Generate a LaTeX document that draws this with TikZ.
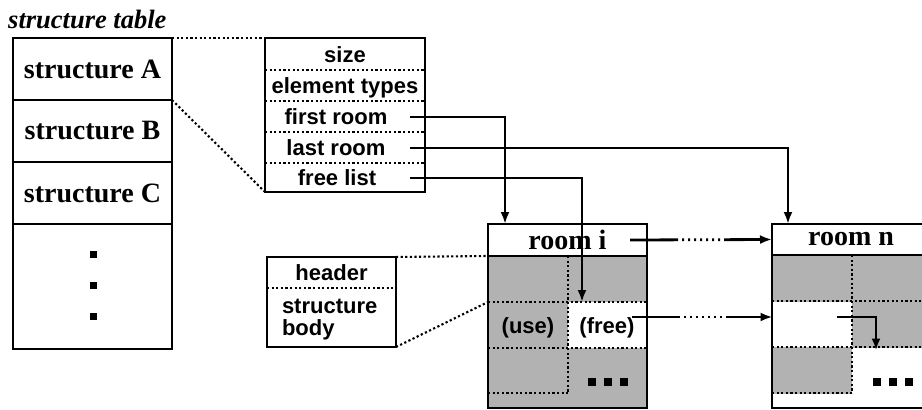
\documentclass[tikz,border=0pt]{standalone}
\usepackage{fontspec}
\setmainfont{Liberation Serif}
\setsansfont{Liberation Sans}
\usetikzlibrary{arrows.meta,positioning}

\newcommand{\tabfont}{\fontsize{28}{30}\selectfont\bfseries}
\newcommand{\fldfont}{\fontsize{22}{24}\selectfont\sffamily\bfseries}

\begin{document}
\begin{tikzpicture}[x=1pt, y=-1pt,
    box/.style={draw, line width=2.7pt, inner sep=0pt, outer sep=0pt},
    tabcell/.style={box, minimum width=159pt, font=\tabfont},
    field/.style={inner sep=0pt, outer sep=0pt, font=\fldfont, anchor=base},
    cell/.style={inner sep=0pt, outer sep=0pt, fill=white},
    zoomline/.style={line width=2.1pt, dash pattern=on 2.2pt off 2.4pt},
    ptr/.style={line width=2.8pt, ->},
    hop/.style={line width=2.8pt, ->, dash pattern=on 48pt off 4pt on 2pt off 4pt on 2pt off 4pt on 2pt off 4pt on 2pt off 4pt on 2pt off 4pt on 2pt off 4pt on 2pt off 4pt on 80pt off 1pt},
    shade/.style={fill=black!30},
    >={Latex[length=12pt,width=9pt]}]
    \useasboundingbox (0,0) rectangle (922,410);
    \clip (0,0) rectangle (922,410);

    % Structure table
    \node[anchor=base west, inner sep=0pt, font=\fontsize{26.5}{28}\selectfont\bfseries\itshape] (title) at (8,28) {structure table};
    \node[tabcell, minimum height=62pt] (sA) at (92.5,69) {structure A};
    \node[tabcell, minimum height=62pt, below=0pt of sA] (sB) {structure B};
    \node[tabcell, minimum height=62pt, below=0pt of sB] (sC) {structure C};
    \node[tabcell, minimum height=125pt, below=0pt of sC] (sD) {};
    \foreach \y in {251,282,313}
        \fill (90,\y) rectangle ++(7,7);

    % Structure header
    \node[box, minimum width=160pt, minimum height=154pt] (hdr) at (345,115) {};
    \foreach \y in {70,101,132,163}
        \draw[zoomline] (265,\y) -- (425,\y);
    \node[field] (fsize) at (345,62) {size};
    \node[field] (ftypes) at (345,93) {element types};
    \node[field] (ffirst) at (336,124) {first room};
    \node[field] (flast) at (336,155) {last room};
    \node[field] (ffree) at (337,185) {free list};
    \coordinate (pfirst) at (410,117);
    \coordinate (plast) at (410,148);
    \coordinate (pfree) at (410,178);

    % Room layout
    \node[box, minimum width=129pt, minimum height=90pt] (hb) at (331.5,302) {};
    \draw[zoomline] (267,288) -- (396,288);
    \node[field] (hhead) at (331.5,280) {header};
    \node[field, anchor=base west] (hbody) at (282,313) {structure};
    \node[field, anchor=base west] (hbody2) at (282,335) {body};

    % Room i
    \node[box, shade, minimum width=159pt, minimum height=152pt] (bi) at (567.5,332) {};
    \node[cell, minimum width=78pt, minimum height=46pt] (fi) at (607,325) {};
    \draw[zoomline] (568,256) -- (568,393);
    \draw[zoomline] (488,302) -- (647,302);
    \draw[zoomline] (488,348) -- (647,348);
    \draw[zoomline] (488,393) -- (568,393);
    \node[field] (use) at (528,333) {(use)};
    \node[field] (free) at (607,333) {(free)};
    \foreach \x in {588,604,620}
        \fill (\x,378) rectangle ++(8,8);
    \node[box, fill=white, minimum width=159pt, minimum height=32pt, font=\tabfont] (ri) at (567.5,240) {room i};
    \draw[line width=2.7pt] (bi.north west) rectangle (bi.south east);

    % Room n
    \node[box, shade, minimum width=158pt, minimum height=153pt] (bn) at (851,331.5) {};
    \node[cell, minimum width=79pt, minimum height=45pt] (fn) at (812,324) {};
    \node[cell, minimum width=79pt, minimum height=15pt] (en) at (812,401) {};
    \node[cell, minimum width=78pt, minimum height=61pt] (gn) at (891,378) {};
    \draw[zoomline] (852,255) -- (852,393);
    \draw[zoomline] (772,301) -- (930,301);
    \draw[zoomline] (772,347) -- (930,347);
    \draw[zoomline] (772,393) -- (852,393);
    \foreach \x in {873,889,905}
        \fill (\x,378) rectangle ++(8,8);
    \node[box, fill=white, minimum width=158pt, minimum height=31pt, font=\tabfont] (rn) at (851,239.5) {room n};
    \draw[line width=2.7pt] (bn.north west) rectangle (bn.south east);

    % Zoom lines
    \draw[zoomline] (sA.north east) -- (hdr.north west);
    \draw[zoomline] (sA.south east) -- (hdr.south west);
    \draw[zoomline] (hb.north east) -- (bi.north west);
    \draw[zoomline] (hb.south east) -- (fi.north west -| bi.west);

    % Pointers
    \coordinate (pnext) at (632,317);
    \coordinate (pin) at (837,317);
    \draw[ptr] (pfirst) -| ([xshift=17pt]ri.north west);
    \draw[ptr] (plast) -| ([xshift=16pt]rn.north west);
    \draw[ptr] (pfree) -| ([xshift=-25pt]fi.north);
    \draw[hop] ([xshift=-17pt]ri.east) -- (rn.west);
    \draw[hop] (pnext) -- (pnext -| fn.west);
    \draw[ptr] (pin) -| ([xshift=-15pt,yshift=-3pt]gn.north);
\end{tikzpicture}
\end{document}
